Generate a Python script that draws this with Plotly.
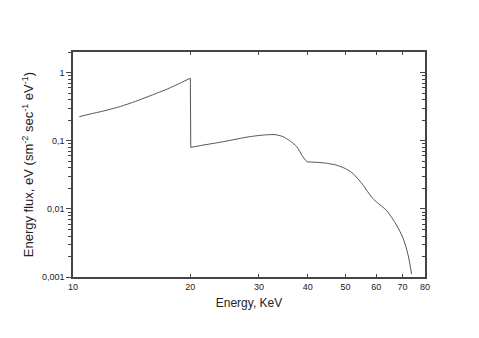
import plotly.graph_objects as go

# segment 1: 10.4 - 20 keV
energy_a = [10.38, 11.0, 12.0, 13.0, 14.0, 15.0, 16.4, 17.5, 18.8, 20.0]
flux_a = [0.226, 0.245, 0.275, 0.31, 0.355, 0.41, 0.50, 0.58, 0.70, 0.83]
# segment 2: 20 - 40 keV
energy_b = [20.0, 20.05, 21.2, 24.3, 28.4, 31.7, 33.0, 34.6, 36.0, 37.5, 38.9, 39.9]
flux_b = [0.83, 0.080, 0.085, 0.097, 0.115, 0.123, 0.123, 0.115, 0.100, 0.082, 0.058, 0.049]
# segment 3: 40 - 74 keV
energy_c = [39.9, 43.0, 45.0, 47.4, 50.0, 52.3, 55.5, 58.3, 60.0, 63.7, 67.6, 70.3, 72.4, 73.9]
flux_c = [0.049, 0.048, 0.0465, 0.044, 0.039, 0.033, 0.0223, 0.0150, 0.0127, 0.0095, 0.0058, 0.0037, 0.0021, 0.0011]

x_ticks = [10, 20, 30, 40, 50, 60, 70, 80]
y_ticks = [0.001, 0.01, 0.1, 1]
y_tick_labels = ["0,001", "0,01", "0,1", "1"]

font = dict(family="Liberation Sans, Arial, sans-serif", color="#222")
line_style = dict(color="#555", width=1)

fig = go.Figure()
fig.add_trace(go.Scatter(x=energy_a, y=flux_a, mode="lines", line=dict(shape="spline", smoothing=0.8, **line_style), showlegend=False))
fig.add_trace(go.Scatter(x=energy_b[:2], y=flux_b[:2], mode="lines", line=line_style, showlegend=False))
fig.add_trace(go.Scatter(x=energy_b[1:], y=flux_b[1:], mode="lines", line=dict(shape="spline", smoothing=0.8, **line_style), showlegend=False))
fig.add_trace(go.Scatter(x=energy_c, y=flux_c, mode="lines", line=dict(shape="spline", smoothing=0.8, **line_style), showlegend=False))
# invisible trace to activate secondary axes
fig.add_trace(go.Scatter(x=[energy_a[0]], y=[flux_a[0]], xaxis="x2", yaxis="y2",
                         mode="markers", marker=dict(opacity=0), showlegend=False,
                         hoverinfo="skip"))

axis_common = dict(showline=True, linecolor="#444", linewidth=1.5, showgrid=False,
                   zeroline=False, tickcolor="#444", automargin=False)

fig.update_layout(
    width=479, height=338,
    margin=dict(l=73, r=54, t=52, b=61),
    paper_bgcolor="white", plot_bgcolor="white",
    font=font,
    xaxis=dict(type="log", range=[1, 1.90309], tickmode="array", tickvals=x_ticks,
               ticktext=[str(v) for v in x_ticks], ticks="inside", ticklen=3,
               tickfont=dict(size=9), title=dict(text="Energy, KeV", font=dict(size=12), standoff=8),
               **axis_common),
    yaxis=dict(type="log", range=[-3, 0.304], tickmode="array", tickvals=y_ticks, ticktext=y_tick_labels,
               ticks="outside", ticklen=5, tickfont=dict(size=9),
               minor=dict(dtick="D1", ticks="outside", ticklen=3, tickwidth=1,
                          tickcolor="#444", showgrid=False),
               title=dict(text="Energy flux, eV (sm<sup>-2</sup> sec<sup>-1</sup> eV<sup>-1</sup>)",
                          font=dict(size=13), standoff=5),
               **axis_common),
    xaxis2=dict(type="log", range=[1, 1.90309], overlaying="x", side="top", tickmode="array",
                tickvals=x_ticks, ticks="inside", ticklen=3, showticklabels=False,
                **axis_common),
    yaxis2=dict(type="log", range=[-3, 0.304], overlaying="y", side="right", tickmode="array",
                tickvals=y_ticks, ticks="inside", ticklen=5, showticklabels=False,
                minor=dict(dtick="D1", ticks="inside", ticklen=3, tickwidth=1,
                           tickcolor="#444", showgrid=False),
                **axis_common),
)

fig.write_html("out.html", config={"displayModeBar": False},
               post_script="document.body.style.margin='0';")
